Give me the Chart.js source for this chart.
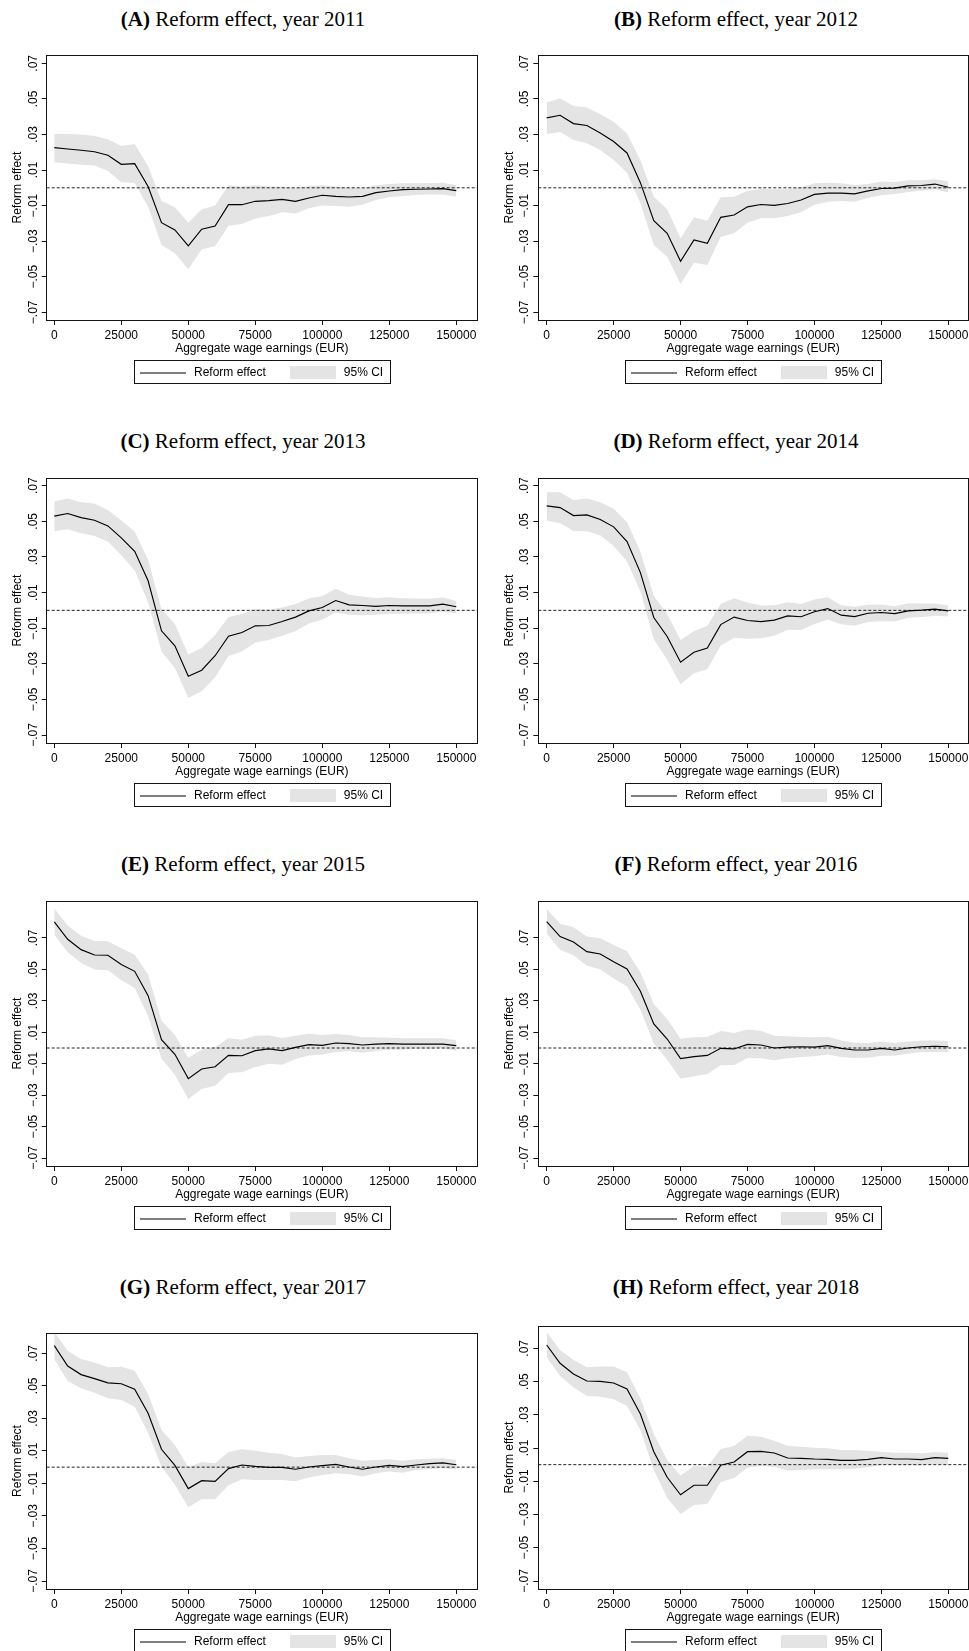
<!DOCTYPE html>
<html><head><meta charset="utf-8">
<script src="https://cdn.jsdelivr.net/npm/chart.js@4.4.0/dist/chart.umd.min.js"></script>
<style>
html,body{margin:0;padding:0;background:#fff;overflow:hidden;width:969px;height:1651px;position:relative;}
.ttl{position:absolute;font-family:"Liberation Serif","Times New Roman",serif;font-size:21px;line-height:24px;color:#000;text-align:center;white-space:nowrap;}
canvas{position:absolute;}
</style></head><body>
<script>
// ---------------- data ----------------
const earnings = [0,5000,10000,15000,20000,25000,30000,35000,40000,45000,50000,55000,60000,65000,70000,75000,80000,85000,90000,95000,100000,105000,110000,115000,120000,125000,130000,135000,140000,145000,150000];

const effect2011 = [0.0226,0.0218,0.0211,0.0203,0.0183,0.0132,0.0136,0.0007,-0.0196,-0.0237,-0.0327,-0.0233,-0.0215,-0.0095,-0.0095,-0.0076,-0.0072,-0.0065,-0.0076,-0.0057,-0.0042,-0.0048,-0.0052,-0.0048,-0.0027,-0.0018,-0.0010,-0.0008,-0.0007,-0.0005,-0.0016];
const ciLow2011  = [0.0143,0.0136,0.0130,0.0125,0.0095,0.0031,0.0027,-0.0106,-0.0321,-0.0368,-0.0458,-0.0346,-0.0329,-0.0213,-0.0203,-0.0173,-0.0158,-0.0138,-0.0145,-0.0115,-0.0100,-0.0102,-0.0106,-0.0095,-0.0068,-0.0053,-0.0046,-0.0040,-0.0038,-0.0038,-0.0050];
const ciHigh2011 = [0.0302,0.0302,0.0299,0.0291,0.0273,0.0235,0.0246,0.0123,-0.0074,-0.0110,-0.0196,-0.0121,-0.0100,0.0014,0.0007,0.0014,0.0007,0.0007,-0.0003,0.0010,0.0014,0.0007,0.0001,-0.0003,0.0014,0.0022,0.0025,0.0025,0.0027,0.0029,0.0014];

const effect2012 = [0.0393,0.0408,0.0361,0.0350,0.0308,0.0260,0.0196,0.0029,-0.0185,-0.0256,-0.0413,-0.0293,-0.0312,-0.0166,-0.0153,-0.0107,-0.0094,-0.0099,-0.0088,-0.0069,-0.0037,-0.0030,-0.0030,-0.0034,-0.0017,-0.0004,-0.0002,0.0011,0.0013,0.0021,0.0003];
const ciLow2012  = [0.0303,0.0314,0.0269,0.0250,0.0213,0.0156,0.0085,-0.0087,-0.0321,-0.0387,-0.0541,-0.0421,-0.0434,-0.0275,-0.0256,-0.0196,-0.0171,-0.0171,-0.0158,-0.0138,-0.0095,-0.0078,-0.0074,-0.0078,-0.0057,-0.0042,-0.0035,-0.0023,-0.0016,-0.0008,-0.0027];
const ciHigh2012 = [0.0479,0.0503,0.0460,0.0451,0.0413,0.0372,0.0306,0.0156,-0.0050,-0.0121,-0.0284,-0.0166,-0.0185,-0.0053,-0.0050,-0.0016,-0.0007,-0.0008,-0.0008,0.0003,0.0025,0.0029,0.0025,0.0016,0.0022,0.0035,0.0033,0.0042,0.0042,0.0048,0.0035];

const effect2013 = [0.0529,0.0544,0.0521,0.0506,0.0474,0.0407,0.0332,0.0166,-0.0115,-0.0199,-0.0370,-0.0336,-0.0255,-0.0145,-0.0124,-0.0087,-0.0085,-0.0063,-0.0038,-0.0003,0.0016,0.0055,0.0031,0.0027,0.0022,0.0027,0.0025,0.0025,0.0025,0.0035,0.0020];
const ciLow2013  = [0.0444,0.0456,0.0433,0.0418,0.0386,0.0310,0.0224,0.0046,-0.0231,-0.0325,-0.0491,-0.0454,-0.0376,-0.0257,-0.0231,-0.0181,-0.0166,-0.0143,-0.0117,-0.0074,-0.0051,-0.0012,-0.0025,-0.0027,-0.0025,-0.0019,-0.0019,-0.0018,-0.0016,-0.0008,-0.0016];
const ciHigh2013 = [0.0611,0.0628,0.0607,0.0600,0.0564,0.0504,0.0443,0.0284,0.0007,-0.0076,-0.0248,-0.0212,-0.0138,-0.0037,-0.0020,0.0007,0.0003,0.0016,0.0035,0.0066,0.0081,0.0121,0.0087,0.0078,0.0070,0.0074,0.0068,0.0066,0.0065,0.0072,0.0053];

const effect2014 = [0.0587,0.0577,0.0532,0.0536,0.0510,0.0469,0.0386,0.0212,-0.0040,-0.0147,-0.0291,-0.0235,-0.0211,-0.0080,-0.0038,-0.0057,-0.0063,-0.0055,-0.0031,-0.0036,-0.0008,0.0010,-0.0027,-0.0035,-0.0016,-0.0012,-0.0018,-0.0003,0.0001,0.0007,-0.0003];
const ciLow2014  = [0.0504,0.0489,0.0446,0.0444,0.0422,0.0362,0.0274,0.0106,-0.0162,-0.0278,-0.0415,-0.0353,-0.0331,-0.0197,-0.0154,-0.0160,-0.0156,-0.0143,-0.0109,-0.0111,-0.0076,-0.0053,-0.0078,-0.0087,-0.0065,-0.0061,-0.0063,-0.0042,-0.0038,-0.0031,-0.0035];
const ciHigh2014 = [0.0663,0.0663,0.0620,0.0628,0.0607,0.0570,0.0495,0.0330,0.0081,-0.0020,-0.0166,-0.0117,-0.0087,0.0036,0.0068,0.0044,0.0027,0.0029,0.0046,0.0036,0.0061,0.0074,0.0029,0.0020,0.0031,0.0033,0.0023,0.0040,0.0038,0.0038,0.0027];

const effect2015 = [0.0802,0.0692,0.0626,0.0592,0.0590,0.0532,0.0488,0.0333,0.0053,-0.0040,-0.0195,-0.0134,-0.0119,-0.0047,-0.0049,-0.0017,-0.0006,-0.0017,0.0004,0.0021,0.0017,0.0032,0.0028,0.0019,0.0025,0.0028,0.0025,0.0025,0.0025,0.0025,0.0015];
const ciLow2015  = [0.0721,0.0609,0.0541,0.0499,0.0494,0.0431,0.0382,0.0202,-0.0068,-0.0170,-0.0325,-0.0261,-0.0240,-0.0159,-0.0155,-0.0121,-0.0100,-0.0106,-0.0070,-0.0047,-0.0042,-0.0025,-0.0021,-0.0030,-0.0019,-0.0011,-0.0011,-0.0006,-0.0006,-0.0002,-0.0019];
const ciHigh2015 = [0.0887,0.0779,0.0715,0.0681,0.0679,0.0634,0.0594,0.0467,0.0174,0.0083,-0.0062,-0.0011,0.0006,0.0062,0.0053,0.0078,0.0081,0.0064,0.0078,0.0091,0.0083,0.0089,0.0083,0.0068,0.0068,0.0066,0.0062,0.0062,0.0062,0.0062,0.0049];

const effect2016 = [0.0804,0.0709,0.0675,0.0613,0.0598,0.0549,0.0503,0.0361,0.0153,0.0057,-0.0068,-0.0055,-0.0047,-0.0002,-0.0006,0.0023,0.0019,0.0000,0.0006,0.0008,0.0006,0.0015,-0.0002,-0.0013,-0.0013,-0.0002,-0.0013,0.0000,0.0008,0.0011,0.0008];
const ciLow2016  = [0.0728,0.0626,0.0590,0.0524,0.0501,0.0443,0.0392,0.0244,0.0028,-0.0074,-0.0195,-0.0180,-0.0165,-0.0110,-0.0108,-0.0064,-0.0066,-0.0078,-0.0066,-0.0057,-0.0053,-0.0042,-0.0057,-0.0064,-0.0062,-0.0049,-0.0049,-0.0036,-0.0025,-0.0025,-0.0025];
const ciHigh2016 = [0.0885,0.0791,0.0768,0.0709,0.0698,0.0655,0.0615,0.0482,0.0280,0.0185,0.0059,0.0068,0.0070,0.0108,0.0095,0.0117,0.0110,0.0078,0.0074,0.0070,0.0068,0.0072,0.0047,0.0034,0.0032,0.0042,0.0032,0.0042,0.0047,0.0047,0.0045];

const effect2017 = [0.0747,0.0622,0.0569,0.0544,0.0518,0.0513,0.0479,0.0331,0.0110,0.0011,-0.0132,-0.0083,-0.0087,-0.0009,0.0013,0.0005,-0.0001,-0.0001,-0.0013,0.0001,0.0009,0.0017,0.0001,-0.0013,0.0001,0.0011,0.0003,0.0013,0.0022,0.0026,0.0015];
const ciLow2017  = [0.0663,0.0530,0.0485,0.0458,0.0423,0.0413,0.0372,0.0212,0.0003,-0.0108,-0.0247,-0.0198,-0.0198,-0.0112,-0.0075,-0.0079,-0.0079,-0.0079,-0.0087,-0.0063,-0.0048,-0.0038,-0.0044,-0.0058,-0.0038,-0.0026,-0.0034,-0.0017,-0.0011,-0.0007,-0.0013];
const ciHigh2017 = [0.0831,0.0716,0.0665,0.0643,0.0614,0.0618,0.0593,0.0450,0.0229,0.0136,-0.0001,0.0032,0.0024,0.0093,0.0110,0.0101,0.0089,0.0081,0.0060,0.0069,0.0075,0.0075,0.0054,0.0040,0.0044,0.0048,0.0040,0.0048,0.0052,0.0054,0.0044];

const effect2018 = [0.0720,0.0610,0.0546,0.0503,0.0501,0.0491,0.0455,0.0305,0.0078,-0.0076,-0.0181,-0.0124,-0.0124,-0.0004,0.0016,0.0078,0.0080,0.0070,0.0040,0.0038,0.0034,0.0032,0.0026,0.0026,0.0032,0.0042,0.0034,0.0034,0.0030,0.0042,0.0038];
const ciLow2018  = [0.0646,0.0533,0.0465,0.0413,0.0409,0.0393,0.0353,0.0209,-0.0032,-0.0201,-0.0297,-0.0243,-0.0237,-0.0104,-0.0080,-0.0018,-0.0008,-0.0012,-0.0036,-0.0032,-0.0028,-0.0028,-0.0028,-0.0024,-0.0016,-0.0002,-0.0004,-0.0004,-0.0004,0.0004,0.0000];
const ciHigh2018 = [0.0798,0.0690,0.0630,0.0586,0.0590,0.0590,0.0556,0.0399,0.0185,0.0028,-0.0066,-0.0008,-0.0012,0.0094,0.0112,0.0174,0.0168,0.0144,0.0114,0.0108,0.0102,0.0098,0.0088,0.0088,0.0084,0.0078,0.0072,0.0072,0.0068,0.0076,0.0072];

const panelLetters = ['A','B','C','D','E','F','G','H'];
const panelYears = [2011,2012,2013,2014,2015,2016,2017,2018];
const titleText = 'Reform effect, year';
const seriesLabel = 'Reform effect';
const ciLabel = '95% CI';
const xAxisTitle = 'Aggregate wage earnings (EUR)';
const yAxisTitle = 'Reform effect';
const xTickValues = [0,25000,50000,75000,100000,125000,150000];
const xTickLabels = ['0','25000','50000','75000','100000','125000','150000'];
const yTickValues = [-0.07,-0.05,-0.03,-0.01,0.01,0.03,0.05,0.07];
const yTickLabels = ['\u2212.07','\u2212.05','\u2212.03','\u2212.01','.01','.03','.05','.07'];

const effects = [effect2011,effect2012,effect2013,effect2014,effect2015,effect2016,effect2017,effect2018];
const ciLows  = [ciLow2011,ciLow2012,ciLow2013,ciLow2014,ciLow2015,ciLow2016,ciLow2017,ciLow2018];
const ciHighs = [ciHigh2011,ciHigh2012,ciHigh2013,ciHigh2014,ciHigh2015,ciHigh2016,ciHigh2017,ciHigh2018];

// ---------------- layout (page pixels) ----------------
const L = {cx:0, cw:492, fL:46.7, fR:477, x0:54.3, x150:456.3};
const R = {cx:492, cw:477, fL:538.3, fR:968, x0:546.7, x150:948.3};
const rows = [
  {fT:55,   fB:320,  y07:63.3,   ym07:312.3, base:25.7},
  {fT:478,  fB:743,  y07:485.7,  ym07:735,   base:448.5},
  {fT:901,  fB:1166, y07:938,    ym07:1158,  base:871.2},
  {fT:1333, fB:1589, y07:1353.3, ym07:1581,  base:1294}
];
const rowOverrides = {7:{fT:1326, y07:1348.3}};

Chart.defaults.font.family = '"Liberation Sans", Arial, sans-serif';
Chart.defaults.font.size = 12;
Chart.defaults.color = '#000';

const measureCtx = document.createElement('canvas').getContext('2d');
measureCtx.font = '12px "Liberation Sans", Arial, sans-serif';
const widestY = Math.max(...yTickLabels.map(s => measureCtx.measureText(s).width));
const yTickPad = 8.2 - widestY / 2;

const framePlugin = {
  id: 'frame',
  afterDatasetsDraw(chart) {
    const {ctx, chartArea: a} = chart;
    const l = Math.floor(a.left) + 0.5, t = Math.floor(a.top) + 0.5;
    const r = Math.floor(a.right) + 0.5, b = Math.floor(a.bottom) + 0.5;
    ctx.save();
    ctx.strokeStyle = '#141414'; ctx.lineWidth = 1;
    ctx.strokeRect(l, t, r - l, b - t);
    ctx.restore();
  }
};

const boxLegend = {
  id: 'boxLegend',
  afterDraw(chart) {
    const {ctx, chartArea: a} = chart;
    const ds = chart.data.datasets;
    const line = ds.find(d => d.legendKind === 'line');
    const area = ds.find(d => d.legendKind === 'area');
    ctx.save();
    ctx.font = '12px "Liberation Sans", Arial, sans-serif';
    const w1 = ctx.measureText(line.label).width;
    const w2 = ctx.measureText(area.label).width;
    const W = Math.round(6 + 46 + 8 + w1 + 24 + 46 + 8 + w2 + 7);
    const H = 23;
    const cx = (a.left + a.right) / 2;
    const left = Math.round(cx - W / 2) + 0.5;
    const top = Math.floor(a.bottom) + 40 + 0.5;
    ctx.strokeStyle = '#141414'; ctx.lineWidth = 1;
    ctx.strokeRect(left, top, W, H);
    let x = left + 5.5;
    ctx.strokeStyle = line.borderColor; ctx.lineWidth = line.borderWidth;
    ctx.beginPath(); ctx.moveTo(x, top + 12.5); ctx.lineTo(x + 46, top + 12.5); ctx.stroke();
    x += 46 + 8;
    ctx.fillStyle = '#000'; ctx.textBaseline = 'middle'; ctx.textAlign = 'left';
    ctx.fillText(line.label, x, top + 12);
    x += w1 + 24;
    ctx.fillStyle = area.backgroundColor;
    ctx.fillRect(Math.round(x), top + 5.5, 46, 13);
    x += 46 + 8;
    ctx.fillStyle = '#000';
    ctx.fillText(area.label, x, top + 12);
    ctx.restore();
  }
};

function yLabel(v) {
  const i = yTickValues.findIndex(t => Math.abs(t - v) < 1e-9);
  return i >= 0 ? yTickLabels[i] : '';
}

for (let p = 0; p < 8; p++) {
  const col = p % 2 === 0 ? L : R;
  const row = Object.assign({}, rows[Math.floor(p / 2)], rowOverrides[p] || {});
  const canvas = document.createElement('canvas');
  const cTop = row.fT - 10;
  const cH = row.fB - row.fT + 80;
  canvas.width = col.cw; canvas.height = cH;
  canvas.style.left = col.cx + 'px'; canvas.style.top = cTop + 'px';
  canvas.style.width = col.cw + 'px'; canvas.style.height = cH + 'px';
  document.body.appendChild(canvas);

  const title = document.createElement('div');
  title.className = 'ttl';
  title.style.left = (p % 2 === 0 ? 0 : 492) + 'px';
  title.style.width = (p % 2 === 0 ? 486 : 488) + 'px';
  title.style.top = (row.base - 19.1) + 'px';
  title.innerHTML = '<b>(' + panelLetters[p] + ')</b> ' + titleText + ' ' + panelYears[p];
  document.body.appendChild(title);

  const xppu = (col.x150 - col.x0) / 150000;
  const xMin = -(col.x0 - col.fL) / xppu;
  const xMax = (col.fR - col.x0) / xppu;
  const yppu = (row.ym07 - row.y07) / 0.14;
  const yMax = 0.07 + (row.y07 - row.fT) / yppu;
  const yMin = -0.07 - (row.fB - row.ym07) / yppu;
  const yAxisW = col.fL - col.cx;
  const padR = col.cw - (col.fR - col.cx);

  const eff = effects[p], lo = ciLows[p], hi = ciHighs[p];
  new Chart(canvas, {
    type: 'line',
    data: {
      datasets: [
        {label: ciLabel, legendKind: 'area', data: earnings.map((x, i) => ({x, y: hi[i]})),
         borderWidth: 0, borderColor: 'rgba(0,0,0,0)', backgroundColor: '#e4e4e4', pointRadius: 0, fill: '+1', order: 3},
        {label: ciLabel + ' (lower bound)', data: earnings.map((x, i) => ({x, y: lo[i]})),
         borderWidth: 0, borderColor: 'rgba(0,0,0,0)', pointRadius: 0, fill: false, order: 4},
        {label: seriesLabel, legendKind: 'line', data: earnings.map((x, i) => ({x, y: eff[i]})),
         borderColor: '#000', borderWidth: 1.15, pointRadius: 0, fill: false, order: 1},
        {label: 'zero', data: [{x: xMin, y: 0}, {x: xMax, y: 0}],
         borderColor: '#222', borderWidth: 1, borderDash: [3, 2], pointRadius: 0, fill: false, order: 2}
      ]
    },
    options: {
      responsive: false, animation: false, devicePixelRatio: 1,
      events: [],
      layout: {padding: {left: 0, right: padR, top: 10, bottom: 30}},
      elements: {line: {tension: 0}},
      plugins: {legend: {display: false}, tooltip: {enabled: false}, title: {display: false}},
      scales: {
        x: {
          type: 'linear', min: xMin, max: xMax,
          afterBuildTicks: s => { s.ticks = xTickValues.map(v => ({value: v})); },
          afterFit: s => { s.height = 40; s.paddingLeft = 0; s.paddingRight = 0; },
          ticks: {autoSkip: false, maxRotation: 0, minRotation: 0, padding: 3.2, color: '#000',
                  callback: v => { const i = xTickValues.indexOf(v); return i >= 0 ? xTickLabels[i] : ''; }},
          grid: {display: true, drawOnChartArea: false, drawTicks: true, tickLength: 5, color: '#141414', lineWidth: 1},
          border: {display: false},
          title: {display: true, text: xAxisTitle, color: '#000', padding: {top: 0, bottom: 4.4}}
        },
        y: {
          type: 'linear', min: yMin, max: yMax,
          afterBuildTicks: s => { s.ticks = yTickValues.map(v => ({value: v})); },
          afterFit: s => { s.width = yAxisW; s.paddingTop = 0; s.paddingBottom = 0; },
          ticks: {autoSkip: false, minRotation: 90, maxRotation: 90, crossAlign: 'center', padding: yTickPad, color: '#000',
                  callback: v => yLabel(v)},
          grid: {display: true, drawOnChartArea: false, drawTicks: true, tickLength: 5, color: '#141414', lineWidth: 1},
          border: {display: false},
          title: {display: true, text: yAxisTitle, color: '#000', padding: {top: 10.1, bottom: 0}}
        }
      }
    },
    plugins: [framePlugin, boxLegend]
  });
}
</script>
</body></html>
